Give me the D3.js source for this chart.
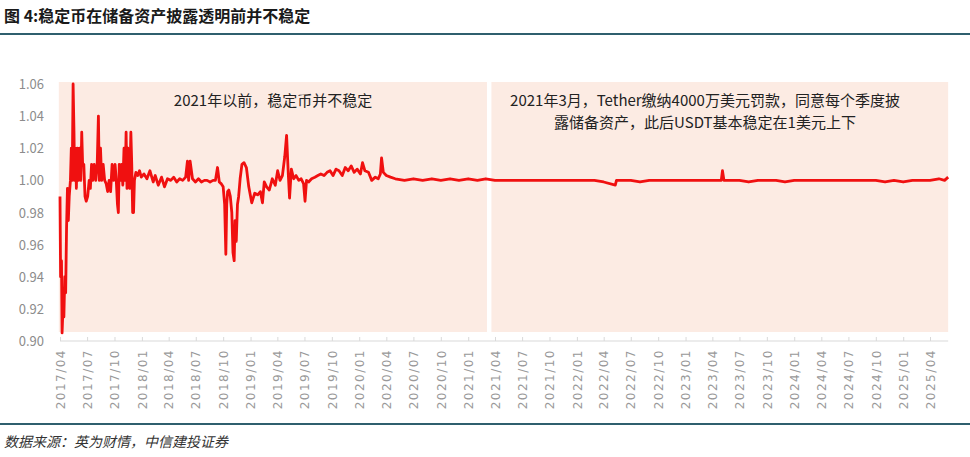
<!DOCTYPE html>
<html><head><meta charset="utf-8">
<script src="https://cdn.jsdelivr.net/npm/d3@7"></script>
<style>
body{margin:0;background:#fff;font-family:"Noto Sans CJK SC","Noto Sans",sans-serif;}
</style></head><body>
<svg id="chart" width="970" height="457"></svg>
<script>
var title = "图 4:稳定币在储备资产披露透明前并不稳定";
var source = "数据来源：英为财情，中信建投证券";
var noteLeft = ["2021年以前，稳定币并不稳定"];
var noteRight = ["2021年3月，Tether缴纳4000万美元罚款，同意每个季度披", "露储备资产，此后USDT基本稳定在1美元上下"];
var yTicks = [0.90, 0.92, 0.94, 0.96, 0.98, 1.00, 1.02, 1.04, 1.06];
var dates = ["2017-04-01","2017-04-03","2017-04-06","2017-04-08","2017-04-11","2017-04-14","2017-04-17","2017-04-20","2017-04-23","2017-04-26","2017-04-29",
"2017-05-02","2017-05-06","2017-05-09","2017-05-12","2017-05-15","2017-05-18","2017-05-20","2017-05-23","2017-05-26","2017-05-29",
"2017-06-02","2017-06-06","2017-06-10","2017-06-13","2017-06-16","2017-06-20","2017-06-24","2017-06-28",
"2017-07-03","2017-07-08","2017-07-12","2017-07-16","2017-07-20","2017-07-25","2017-07-30",
"2017-08-04","2017-08-08","2017-08-11","2017-08-15","2017-08-19","2017-08-24","2017-08-29",
"2017-09-03","2017-09-08","2017-09-13","2017-09-18","2017-09-23","2017-09-28",
"2017-10-03","2017-10-07","2017-10-11","2017-10-14","2017-10-17","2017-10-21","2017-10-25","2017-10-29",
"2017-11-02","2017-11-06","2017-11-09","2017-11-12","2017-11-15","2017-11-18","2017-11-21","2017-11-25","2017-11-28",
"2017-12-01","2017-12-04","2017-12-07","2017-12-12","2017-12-18","2017-12-24","2017-12-30",
"2018-01-08","2018-01-18","2018-01-28","2018-02-08","2018-02-15","2018-02-25","2018-03-08","2018-03-18","2018-03-28",
"2018-04-08","2018-04-18","2018-04-28","2018-05-08","2018-05-18","2018-05-28","2018-06-03","2018-06-07","2018-06-12","2018-06-20","2018-06-30",
"2018-07-10","2018-07-20","2018-07-30","2018-08-08","2018-08-18","2018-08-28","2018-09-05","2018-09-12","2018-09-18","2018-09-24",
"2018-10-01","2018-10-06","2018-10-10","2018-10-13","2018-10-16","2018-10-20","2018-10-25","2018-10-30",
"2018-11-03","2018-11-07","2018-11-10","2018-11-14","2018-11-18","2018-11-22","2018-11-27","2018-12-03","2018-12-10","2018-12-18","2018-12-26",
"2019-01-05","2019-01-15","2019-01-25","2019-02-03","2019-02-10","2019-02-16","2019-02-24","2019-03-05","2019-03-15","2019-03-25",
"2019-04-02","2019-04-10","2019-04-18","2019-04-26","2019-05-02","2019-05-08","2019-05-12","2019-05-18","2019-05-26","2019-06-03","2019-06-12","2019-06-20","2019-06-28",
"2019-07-03","2019-07-08","2019-07-15","2019-07-25","2019-08-05","2019-08-15","2019-08-25","2019-09-05","2019-09-15","2019-09-25",
"2019-10-05","2019-10-15","2019-10-25","2019-11-05","2019-11-15","2019-11-25","2019-12-05","2019-12-15","2019-12-25",
"2020-01-05","2020-01-12","2020-01-20","2020-02-01","2020-02-12","2020-02-24","2020-03-05","2020-03-12","2020-03-16","2020-03-22","2020-04-01","2020-04-15",
"2020-05-01","2020-06-01","2020-07-01","2020-08-01","2020-09-01","2020-10-01","2020-11-01","2020-12-01",
"2021-01-01","2021-02-01","2021-03-01","2021-04-01","2021-05-01","2021-06-01","2021-07-01","2021-08-01","2021-09-01","2021-10-01","2021-11-01","2021-12-01",
"2022-01-01","2022-02-01","2022-03-01","2022-04-01","2022-05-10","2022-05-14","2022-06-01","2022-07-01","2022-08-01","2022-09-01","2022-10-01","2022-11-01","2022-12-01",
"2023-01-01","2023-02-01","2023-03-01","2023-04-01","2023-05-01","2023-05-05","2023-05-10","2023-06-01","2023-07-01","2023-08-01","2023-09-01","2023-10-01","2023-11-01","2023-12-01",
"2024-01-01","2024-02-01","2024-03-01","2024-04-01","2024-05-01","2024-06-01","2024-07-01","2024-08-01","2024-09-01","2024-10-01","2024-11-01","2024-12-01",
"2025-01-01","2025-02-01","2025-03-01","2025-04-01","2025-05-01","2025-05-20","2025-06-01"];
var values = [0.99,0.94,0.95,0.905,0.92,0.915,0.94,0.93,0.97,0.995,0.975,
0.99,1.00,1.02,1.00,1.06,1.03,1.00,1.02,0.995,1.02,
1.00,1.02,1.00,1.03,1.01,1.01,0.99,0.987,
0.99,1.00,0.995,1.01,1.00,1.01,1.00,
1.01,1.04,1.00,1.02,1.00,1.01,1.00,
0.998,0.993,1.00,0.993,1.01,1.00,
1.01,1.00,0.985,0.98,1.01,1.00,1.01,0.997,
1.02,1.00,1.03,0.995,1.02,1.00,0.995,1.03,1.01,
0.98,0.98,1.00,1.005,1.003,1.006,1.002,
1.004,1.001,1.006,0.999,1.003,0.997,1.002,0.996,1.001,
1.000,1.002,0.999,1.001,1.000,1.002,1.012,1.000,1.012,1.001,0.999,
1.001,0.999,1.000,1.000,0.999,1.000,1.000,1.008,0.999,0.998,
0.996,0.985,0.954,0.985,0.993,0.994,0.990,0.980,
0.955,0.950,0.975,0.962,0.985,0.990,1.001,1.010,1.011,1.008,0.996,
0.986,0.992,0.991,0.993,0.986,0.999,0.996,0.994,1.001,0.997,
1.006,1.000,1.003,1.015,1.028,1.003,0.989,1.007,1.001,1.003,1.000,1.001,0.998,
0.987,1.000,0.999,1.001,1.002,1.003,1.004,1.003,1.005,1.006,
1.003,1.007,1.006,1.003,1.008,1.006,1.009,1.005,1.007,
1.004,1.011,1.006,1.005,1.000,1.002,1.001,1.004,1.014,1.005,1.003,1.002,
1.001,1.000,1.001,1.000,1.001,1.000,1.001,1.000,
1.001,1.000,1.001,1.000,1.000,1.000,1.000,1.000,1.000,1.000,1.000,1.000,
1.000,1.000,1.000,0.999,0.997,1.000,1.000,1.000,0.999,1.000,1.000,1.000,1.000,
1.000,1.000,1.000,1.000,1.000,1.006,1.000,1.000,1.000,0.999,1.000,1.000,1.000,0.999,
1.000,1.000,1.000,1.000,1.000,1.000,1.000,1.000,1.000,1.000,0.999,1.000,
0.999,1.000,1.000,1.000,1.001,1.000,1.002];

var parse = d3.timeParse("%Y-%m-%d");
var data = dates.map(function(d, i) { return {date: parse(d), value: values[i]}; });
var xTicks = d3.timeMonth.range(parse("2017-04-01"), parse("2025-04-02"), 3);

var svg = d3.select("#chart");
var plotLeft = 60, plotTop = 84, plotBottom = 341;
var endDate = parse("2025-06-01");

var x = d3.scaleTime().domain([parse("2017-04-01"), parse("2025-04-01")]).range([plotLeft, 930]);
var y = d3.scaleLinear().domain([0.90, 1.06]).range([plotBottom, plotTop]);

// title
svg.append("text").attr("x", 4).attr("y", 22).attr("font-size", 16).attr("font-weight", "bold")
	.attr("fill", "#1a1a1a").text(title);
svg.append("line").attr("x1", 0).attr("x2", 970).attr("y1", 34).attr("y2", 34)
	.attr("stroke", "#2f5f6e").attr("stroke-width", 2);

// shaded periods
svg.append("rect").attr("x", x(parse("2017-03-28"))).attr("y", 82)
	.attr("width", x(parse("2021-03-05")) - x(parse("2017-03-28"))).attr("height", 250).attr("fill", "#fcebe3");
svg.append("rect").attr("x", x(parse("2021-03-20"))).attr("y", 82)
	.attr("width", x(endDate) - x(parse("2021-03-20"))).attr("height", 250).attr("fill", "#fcebe3");

// y axis labels
svg.selectAll(".ytick").data(yTicks).enter().append("text")
	.attr("x", 44).attr("y", function(d) { return y(d) + 5; })
	.attr("text-anchor", "end").attr("font-size", 13).attr("fill", "#8c8c8c")
	.text(function(d) { return d.toFixed(2); });

// x axis
var xAxis = svg.append("g").attr("transform", "translate(0," + plotBottom + ")")
	.call(d3.axisBottom(x).tickValues(xTicks).tickSize(4).tickFormat(d3.timeFormat("%Y/%m")));
xAxis.select(".domain").attr("stroke", "#d9d9d9").attr("d", "M" + plotLeft + ",0H" + x(endDate));
xAxis.selectAll(".tick line").attr("stroke", "#d9d9d9").attr("y2", -4);
xAxis.selectAll(".tick text")
	.attr("transform", "rotate(-90)").attr("text-anchor", "end")
	.attr("x", -8).attr("y", 0).attr("dy", "0.35em")
	.attr("font-size", 12).attr("letter-spacing", "1.5px").attr("fill", "#999")
	.attr("font-family", "DejaVu Sans");

// line
svg.append("path").datum(data)
	.attr("d", d3.line().x(function(d) { return x(d.date); }).y(function(d) { return y(d.value); }))
	.attr("fill", "none").attr("stroke", "#f01010").attr("stroke-width", 2.8).attr("stroke-linejoin", "round");

// annotations
svg.append("text").attr("x", 273).attr("y", 106).attr("text-anchor", "middle")
	.attr("font-size", 15).attr("fill", "#222").text(noteLeft[0]);
noteRight.forEach(function(t, i) {
	svg.append("text").attr("x", 705).attr("y", 106 + i * 22).attr("text-anchor", "middle")
		.attr("font-size", 15).attr("fill", "#222").text(t);
});

// footer
svg.append("line").attr("x1", 0).attr("x2", 970).attr("y1", 424).attr("y2", 424)
	.attr("stroke", "#2f5f6e").attr("stroke-width", 2);
svg.append("text").attr("x", 4).attr("y", 447).attr("font-size", 14).attr("font-style", "italic")
	.attr("fill", "#333").text(source);
</script>
</body></html>
